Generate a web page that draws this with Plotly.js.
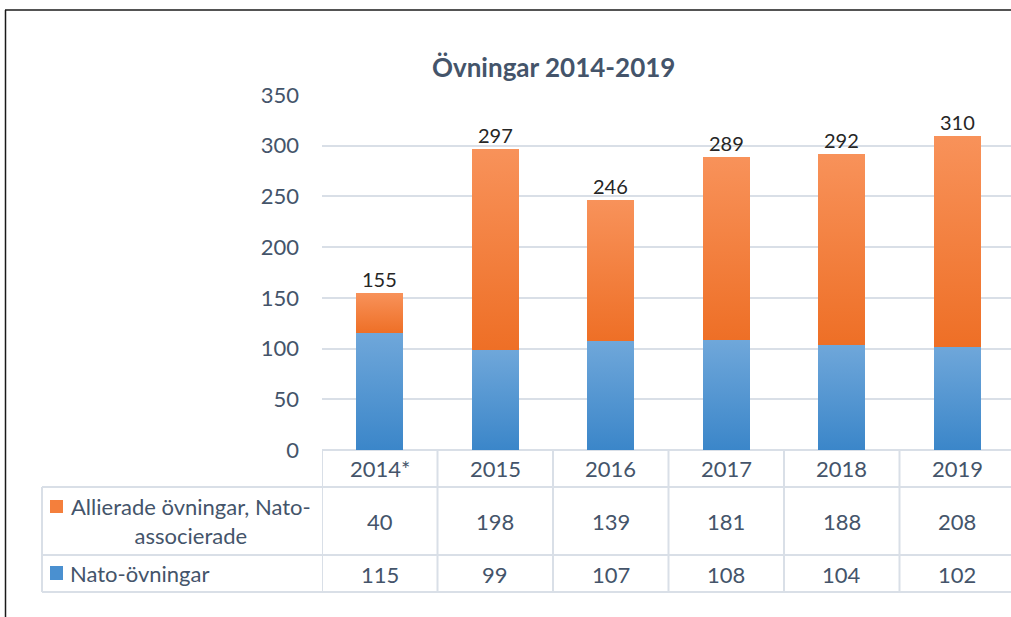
<!DOCTYPE html>
<html>
<head>
<meta charset="utf-8">
<script src="https://cdn.plot.ly/plotly-3.0.1.min.js"></script>
<style>html,body{margin:0;padding:0;background:#fff;}#chart{width:1011px;height:617px;}</style>
</head>
<body>
<div id="chart"></div>
<script>
const categories = ["2014*", "2015", "2016", "2017", "2018", "2019"];
const natoOvningar = [115, 99, 107, 108, 104, 102];
const allierade = [40, 198, 139, 181, 188, 208];
const totals = [155, 297, 246, 289, 292, 310];
const seriesNames = ["Allierade övningar, Nato-<br>associerade", "Nato-övningar"];
const yTicks = [0, 50, 100, 150, 200, 250, 300, 350];

const W = 1011, H = 617;
const px = v => v / W;
const py = v => (H - v) / H;
const FONT = "Lato, 'Liberation Sans', sans-serif";
const gridColor = "#d9dfe7";
const textColor = "#44546a";
const idx = categories.map((c, i) => i);

const traces = [
  { type: "bar", x: idx, y: natoOvningar, name: "Nato-övningar", marker: { color: "#4a90d0" }, width: 0.41, hoverinfo: "skip" },
  { type: "bar", x: idx, y: allierade, name: "Allierade", marker: { color: "#f47f3c" }, width: 0.41, hoverinfo: "skip" }
];

const shapes = [];
const annotations = [];

// frame
shapes.push({ type: "line", xref: "paper", yref: "paper", x0: px(5), x1: px(1011), y0: py(10), y1: py(10), line: { color: "#1a1a1a", width: 1.5 } });
shapes.push({ type: "line", xref: "paper", yref: "paper", x0: px(5.5), x1: px(5.5), y0: py(10), y1: py(617), line: { color: "#1a1a1a", width: 1.5 } });

// table grid
const tl = { color: gridColor, width: 2 };
[487, 555, 592].forEach(y => shapes.push({ type: "line", xref: "paper", yref: "paper", x0: px(42), x1: 1, y0: py(y), y1: py(y), line: tl }));
shapes.push({ type: "line", xref: "paper", yref: "paper", x0: px(42), x1: px(42), y0: py(487), y1: py(592), line: tl });
for (let i = 0; i <= categories.length; i++) {
  shapes.push({ type: "line", xref: "x", yref: "paper", x0: i - 0.5, x1: i - 0.5, y0: py(450), y1: py(592), line: tl });
}
// legend keys
shapes.push({ type: "rect", xref: "paper", yref: "paper", x0: px(50), x1: px(63), y0: py(500), y1: py(513), fillcolor: "#f47f3c", line: { width: 0 } });
shapes.push({ type: "rect", xref: "paper", yref: "paper", x0: px(50), x1: px(63), y0: py(566), y1: py(580), fillcolor: "#4a90d0", line: { width: 0 } });

// title
annotations.push({ xref: "paper", yref: "paper", x: px(553), y: py(67), text: "<b>Övningar 2014-2019</b>", showarrow: false, font: { family: FONT, size: 26, color: textColor }, xanchor: "center", yanchor: "middle" });

const tf = { family: FONT, size: 22, color: textColor };
categories.forEach((c, i) => {
  annotations.push({ xref: "x", yref: "y", x: i, y: totals[i], text: String(totals[i]), showarrow: false, yanchor: "bottom", yshift: 0, font: { family: FONT, size: 20, color: "#262626" } });
  annotations.push({ xref: "x", yref: "paper", x: i, y: py(469), text: c, showarrow: false, yanchor: "middle", font: tf });
  annotations.push({ xref: "x", yref: "paper", x: i, y: py(521), text: String(allierade[i]), showarrow: false, yanchor: "middle", font: tf });
  annotations.push({ xref: "x", yref: "paper", x: i, y: py(574), text: String(natoOvningar[i]), showarrow: false, yanchor: "middle", font: tf });
});
// row labels
annotations.push({ xref: "paper", yref: "paper", x: px(191), y: py(521), text: seriesNames[0], showarrow: false, xanchor: "center", yanchor: "middle", align: "center", font: tf });
annotations.push({ xref: "paper", yref: "paper", x: px(68), y: py(573), text: seriesNames[1], showarrow: false, xanchor: "left", yanchor: "middle", font: tf });

const layout = {
  width: W, height: H,
  margin: { l: 0, r: 0, t: 0, b: 0 },
  paper_bgcolor: "#fff", plot_bgcolor: "#fff",
  barmode: "stack",
  showlegend: false,
  xaxis: { domain: [px(322), 1], range: [-0.5, -0.5 + (1011 - 322) / 115.5], type: "linear", showticklabels: false, showgrid: false, zeroline: false, showline: false, ticks: "" },
  yaxis: { domain: [py(450), py(95)], range: [0, 350], tickvals: yTicks, showgrid: true, gridcolor: gridColor, gridwidth: 2, zeroline: true, zerolinecolor: gridColor, zerolinewidth: 2, ticks: "", ticklabelstandoff: 22, tickfont: { family: FONT, size: 22, color: textColor } },
  shapes, annotations
};

Plotly.newPlot("chart", traces, layout, { staticPlot: true }).then(() => {
  const svg = document.querySelector("#chart .main-svg");
  const ns = "http://www.w3.org/2000/svg";
  let defs = svg.querySelector("defs");
  if (!defs) { defs = document.createElementNS(ns, "defs"); svg.insertBefore(defs, svg.firstChild); }
  function grad(id, top, bottom) {
    const g = document.createElementNS(ns, "linearGradient");
    g.setAttribute("id", id); g.setAttribute("x1", "0"); g.setAttribute("y1", "0"); g.setAttribute("x2", "0"); g.setAttribute("y2", "1");
    [[0, top], [1, bottom]].forEach(([o, c]) => { const s = document.createElementNS(ns, "stop"); s.setAttribute("offset", o); s.setAttribute("stop-color", c); g.appendChild(s); });
    defs.appendChild(g);
  }
  grad("gBlue", "#6fa7da", "#3b86c9");
  grad("gOrange", "#f8925a", "#ee6f26");
  const tr = document.querySelectorAll("#chart .barlayer .trace");
  const ids = ["gBlue", "gOrange"];
  tr.forEach((t, i) => t.querySelectorAll("path").forEach(p => { p.style.fill = "url(#" + ids[i] + ")"; }));
});
</script>
</body>
</html>
